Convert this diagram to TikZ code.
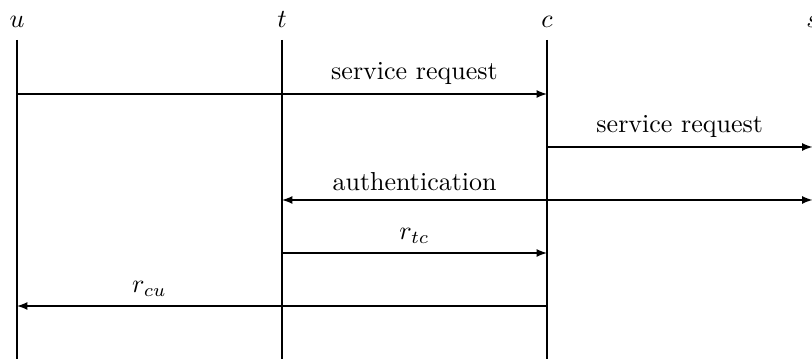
\documentclass[tikz,border=0pt]{standalone}
\usetikzlibrary{arrows}
\begin{document}
\begin{tikzpicture}[x=0.3846pt,y=-0.3846pt,
  lifeline/.style={line width=0.4pt},
  msg/.style={line width=0.4pt,-latex},
  bimsg/.style={line width=0.4pt,latex-latex},
  head/.style={anchor=base}]
\useasboundingbox (0,0) rectangle (812,359);
\clip (0,0) rectangle (812,359);
% headers
\node[head] (u) at (17,28) {$u$};
\node[head] (t) at (282,28) {$t$};
\node[head] (c) at (547,28) {$c$};
\node[head] (s) at (812.5,28) {$s$};
% lifelines
\foreach \n in {u,t,c,s}{
  \coordinate (\n top) at (\n |- 0,40);
  \coordinate (\n bot) at (\n |- 0,370);
  \draw[lifeline] (\n top) -- (\n bot);
}
% message rows
\coordinate (m1) at (0,94);
\coordinate (m2) at (0,147);
\coordinate (m3) at (0,200);
\coordinate (m4) at (0,253);
\coordinate (m5) at (0,306);
\draw[msg] (u|-m1) -- node[pos=0.75,above] (l1) {service request} (c|-m1);
\draw[msg] (c|-m2) -- node[above] (l2) {service request} (s|-m2);
\draw[bimsg] (t|-m3) -- node[pos=0.25,above] (l3) {authentication} (s|-m3);
\draw[msg] (t|-m4) -- node[above] (l4) {$r_{tc}$} (c|-m4);
\draw[msg] (c|-m5) -- node[pos=0.75,above] (l5) {$r_{cu}$} (u|-m5);
\end{tikzpicture}
\end{document}
